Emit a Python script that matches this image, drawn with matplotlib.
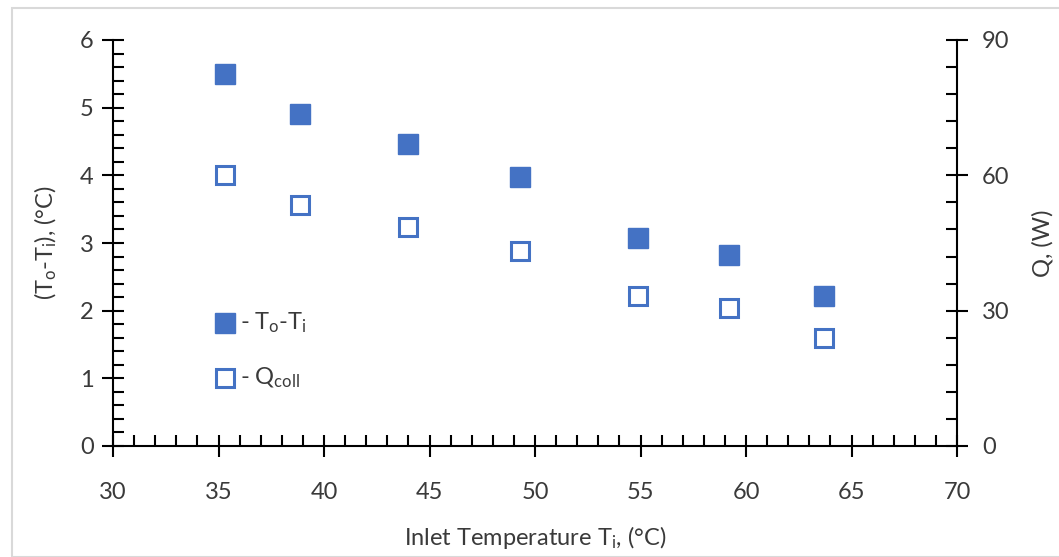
import matplotlib
matplotlib.use("Agg")
import matplotlib.pyplot as plt
from matplotlib.patches import Rectangle
from matplotlib.ticker import MultipleLocator

plt.rcParams['font.family'] = ['Lato', 'DejaVu Sans']
plt.rcParams['mathtext.fontset'] = 'custom'
plt.rcParams['mathtext.rm'] = 'Lato'
plt.rcParams['mathtext.it'] = 'Lato'

# Measured data
inlet_temp = [35.3, 38.86, 44.0, 49.3, 54.9, 59.2, 63.7]
delta_t = [5.50, 4.90, 4.46, 3.97, 3.07, 2.82, 2.22]
q_coll = [60.0, 53.4, 48.5, 43.2, 33.2, 30.6, 23.9]

blue = '#4472C4'
text_col = '#3a3a3a'
fs = 17

fig = plt.figure(figsize=(10.59, 5.57), dpi=100)
fig.patches.append(Rectangle((12 / 1059, 0), 1.0, 1 - 8 / 557, transform=fig.transFigure,
                             fill=False, edgecolor='#d9d9d9', linewidth=1.5, zorder=0))

ax = fig.add_axes([113 / 1059, 1 - 446 / 557, (957 - 113) / 1059, (446 - 40) / 557])
ax2 = ax.twinx()

ax.plot(inlet_temp, delta_t, 's', color=blue, markersize=14, linestyle='none', zorder=3)
ax2.plot(inlet_temp, q_coll, 's', markerfacecolor='white', markeredgecolor=blue,
         markeredgewidth=2.2, markersize=12.5, linestyle='none', zorder=3)

ax.set_xlim(30, 70)
ax.set_ylim(0, 6)
ax2.set_ylim(0, 90)

for a in (ax, ax2):
    for s in a.spines.values():
        s.set_visible(False)

ax.spines['left'].set_visible(True)
ax.spines['bottom'].set_visible(True)
ax2.spines['right'].set_visible(True)
for s in (ax.spines['left'], ax.spines['bottom'], ax2.spines['right']):
    s.set_linewidth(1.5)
    s.set_color('black')

ax.xaxis.set_major_locator(MultipleLocator(5))
ax.xaxis.set_minor_locator(MultipleLocator(1))
ax.yaxis.set_major_locator(MultipleLocator(1))
ax.yaxis.set_minor_locator(MultipleLocator(0.2))
ax2.yaxis.set_major_locator(MultipleLocator(30))
ax2.yaxis.set_minor_locator(MultipleLocator(6))

ax.tick_params(axis='both', which='major', direction='inout', length=16, width=1.5,
               labelsize=fs, labelcolor=text_col)
ax.tick_params(axis='both', which='minor', direction='in', length=8, width=1.5)
ax.tick_params(axis='x', which='major', pad=18)
ax.tick_params(axis='y', which='major', pad=6)
ax2.tick_params(axis='y', which='major', direction='inout', length=16, width=1.5,
                labelsize=fs, labelcolor=text_col, pad=10)
ax2.tick_params(axis='y', which='minor', direction='in', length=8, width=1.5)

ax.set_xlabel(r'Inlet Temperature T$_\mathregular{i}$, (°C)', fontsize=fs,
              color=text_col, labelpad=15)
ax.set_ylabel(r'(T$_\mathregular{o}$-T$_\mathregular{i}$), (°C)', fontsize=fs,
              color=text_col, labelpad=15)
ax2.set_ylabel('Q, (W)', fontsize=fs, color=text_col, labelpad=16, rotation=90)

# Legend drawn as markers with labels inside the plot area
ax.plot([35.3], [1.82], 's', color=blue, markersize=14, clip_on=False)
ax.text(36.0, 1.82, r'- T$_\mathregular{o}$-T$_\mathregular{i}$', fontsize=fs, color=text_col,
        va='center', ha='left')
ax2.plot([35.3], [15.0], 's', markerfacecolor='white', markeredgecolor=blue,
         markeredgewidth=2.2, markersize=12.5)
ax2.text(36.0, 15.0, r'- Q$_\mathregular{coll}$', fontsize=fs, color=text_col,
         va='center', ha='left')

fig.savefig('out.png', dpi=100)
